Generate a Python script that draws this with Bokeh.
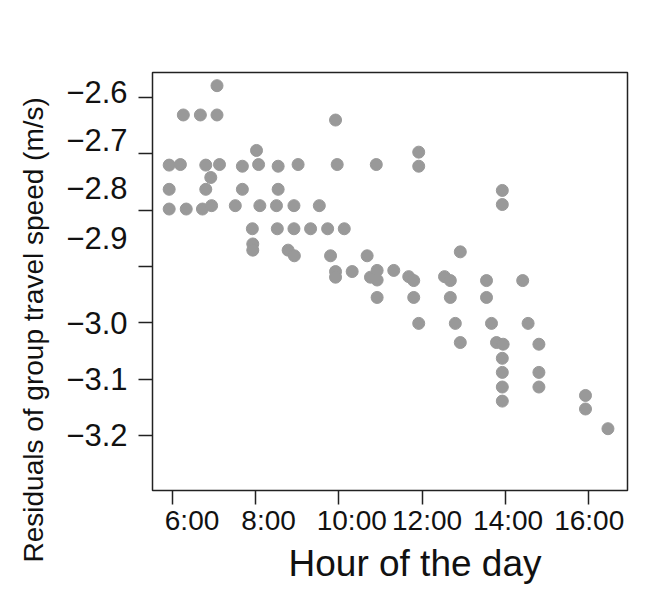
from bokeh.plotting import figure
from bokeh.models import Range1d, FixedTicker, LinearAxis, Title
from bokeh.embed import file_html
from bokeh.resources import INLINE

hours = [7.07, 6.26, 6.67, 7.07, 8.02, 5.92, 6.19, 6.80, 7.13, 7.68, 8.07, 8.54, 9.02, 6.92,
         5.92, 6.80, 7.68, 8.54, 5.92, 6.33, 6.72, 6.94, 7.51, 8.10, 8.50, 8.92, 7.92, 8.52,
         8.92, 9.32, 7.93, 7.93, 8.78, 8.93,
         9.92, 9.96, 10.90, 11.92, 11.92, 9.53, 9.73, 10.13, 9.80, 9.92, 9.92, 10.32, 10.68,
         10.76, 10.92, 10.92, 11.32, 11.68, 11.80, 12.54, 12.68, 12.92,
         13.93, 13.93, 13.55, 14.42, 10.92, 11.80, 12.68, 13.55, 11.92, 12.80, 13.67, 14.55,
         12.92, 13.79, 13.95, 14.81, 13.93, 13.93, 14.81, 13.93, 14.81, 13.93, 15.93, 15.93, 16.47]

residuals = [-2.579, -2.631, -2.631, -2.631, -2.694, -2.720, -2.719, -2.720, -2.719, -2.722,
             -2.719, -2.722, -2.719, -2.742, -2.763, -2.763, -2.763, -2.763, -2.798, -2.798,
             -2.798, -2.792, -2.792, -2.792, -2.792, -2.792, -2.833, -2.833, -2.833, -2.833,
             -2.860, -2.871, -2.871, -2.881,
             -2.640, -2.719, -2.719, -2.697, -2.722, -2.792, -2.833, -2.833, -2.881, -2.909,
             -2.919, -2.909, -2.881, -2.919, -2.907, -2.924, -2.907, -2.918, -2.925, -2.918,
             -2.925, -2.874,
             -2.765, -2.790, -2.925, -2.925, -2.955, -2.955, -2.955, -2.955, -3.001, -3.001,
             -3.001, -3.001, -3.035, -3.035, -3.038, -3.038, -3.063, -3.088, -3.088, -3.114,
             -3.114, -3.139, -3.129, -3.153, -3.188]

x_ticks = [6, 8, 10, 12, 14, 16]
x_tick_labels = ["6:00", "8:00", "10:00", "12:00", "14:00", "16:00"]
# in the reference the left-hand hour labels sit a little right of their ticks
x_label_positions = [6.47, 8.31, 10.31, 12.12, 14.07, 16.02]
y_ticks = [-2.6, -2.7, -2.8, -2.9, -3.0, -3.1, -3.2]
y_tick_labels = ["\u22122.6", "\u22122.7", "\u22122.8", "\u22122.9", "\u22123.0", "\u22123.1", "\u22123.2"]
# in the reference the upper tick labels sit above their tick marks
y_label_positions = [-2.5911, -2.6763, -2.7607, -2.8495, -3.0, -3.1, -3.2]

FONT = "Liberation Sans"
INK = "#111111"
LINE = "#222222"

p = figure(width=641, height=586, output_backend="svg", toolbar_location=None,
           x_range=Range1d(5.519, 16.94), y_range=Range1d(-3.2977, -2.5556),
           min_border_left=152, min_border_top=72, min_border_right=14, min_border_bottom=96)

p.scatter(hours, residuals, size=12, fill_color="#999999", line_color="#999999")

p.grid.visible = False
p.outline_line_color = LINE
p.outline_line_width = 1.5
p.background_fill_color = "white"
p.border_fill_color = "white"


def tick_only(ax, ticks):
    ax.ticker = FixedTicker(ticks=ticks)
    ax.major_label_overrides = {t: "" for t in ticks}
    ax.major_label_text_font_size = "1px"
    ax.major_label_standoff = 0
    ax.axis_line_color = None
    ax.major_tick_line_color = LINE
    ax.major_tick_line_width = 1.5
    ax.major_tick_in = 0
    ax.major_tick_out = 14
    ax.minor_tick_line_color = None


def label_only(ax, positions, labels, size, standoff):
    ax.ticker = FixedTicker(ticks=positions)
    ax.major_label_overrides = {t: l for t, l in zip(positions, labels)}
    ax.axis_line_color = None
    ax.major_tick_line_color = None
    ax.major_tick_in = 0
    ax.major_tick_out = 0
    ax.minor_tick_line_color = None
    ax.major_label_text_font = FONT
    ax.major_label_text_font_size = size
    ax.major_label_text_color = INK
    ax.major_label_standoff = standoff


tick_only(p.xaxis[0], x_ticks)
xl = LinearAxis()
label_only(xl, x_label_positions, x_tick_labels, "28px", 0)
p.add_layout(xl, "below")

tick_only(p.yaxis[0], y_ticks)
yl = LinearAxis()
label_only(yl, y_label_positions, y_tick_labels, "31px", 11)
p.add_layout(yl, "left")

# axis titles
ytitle = Title(text="Residuals of group travel speed (m/s)", align="left", offset=-72,
               text_font=FONT, text_font_style="normal", text_font_size="28px",
               text_color=INK, standoff=29)
p.add_layout(ytitle, "left")

xtitle = Title(text="Hour of the day", align="left", offset=136,
               text_font=FONT, text_font_style="normal", text_font_size="37px",
               text_color=INK, standoff=5)
p.add_layout(xtitle, "below")

open("out.html", "w").write(file_html(p, INLINE))
